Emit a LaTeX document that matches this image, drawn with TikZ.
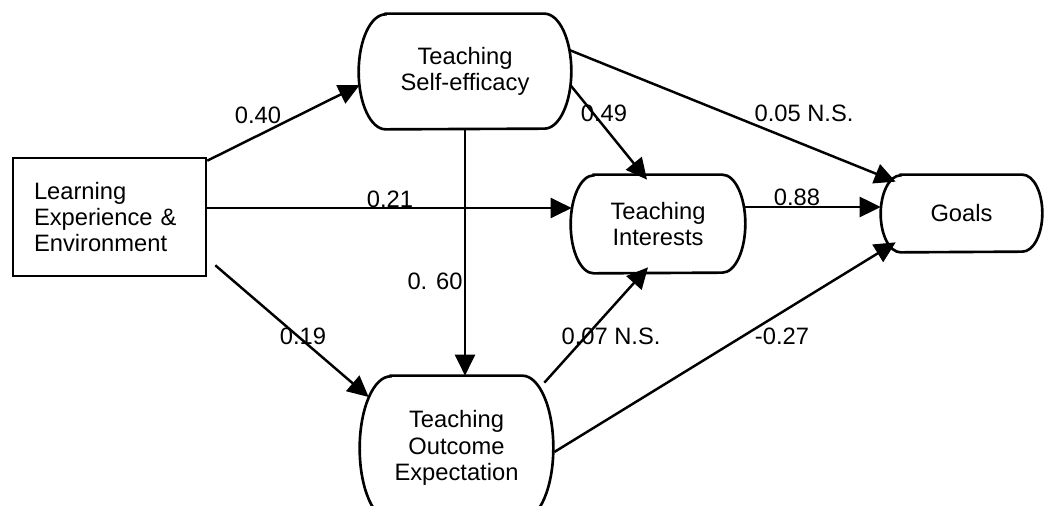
\documentclass[tikz,border=0pt]{standalone}
\usepackage{fontspec}
\setmainfont{Liberation Sans}
\usetikzlibrary{arrows.meta,calc}
\tikzstyle{arrow} = [line width=1.4pt,-{Triangle[length=12pt,width=11.5pt]}]
\tikzstyle{outline} = [line width=1.5pt]
\tikzstyle{capbox} = [align=center,inner sep=0pt]
\tikzstyle{coef} = [inner sep=0pt]
\newcommand{\capsule}[3]{%
	\draw[outline] ($(#1.north west)+(#2,0)$) -- ($(#1.north east)-(#2,0)$)
	arc[start angle=90,end angle=-90,x radius=#2*0.02cm,y radius=#3*0.02cm]
	-- ($(#1.south west)+(#2,0)$)
	arc[start angle=270,end angle=90,x radius=#2*0.02cm,y radius=#3*0.02cm] -- cycle;}

\begin{document}
\begin{tikzpicture}[x=0.02cm,y=-0.02cm,
	every node/.style={font=\fontsize{13.5}{15}\selectfont}]
	\useasboundingbox (0,0) rectangle (1044,506);
	\node[draw,outline,align=left,text width=3.02cm,inner xsep=0.42cm,
	minimum height=2.36cm] (learn) at (109.5,217)
	{Learning\\Experience \&\\Environment};
	\node[capbox,minimum width=4.24cm,minimum height=2.3cm] (se) at (465,71.5)
	{Teaching\\Self-efficacy};
	\node[capbox,minimum width=3.48cm,minimum height=1.96cm] (int) at (658,224)
	{Teaching\\Interests};
	\node[capbox,minimum width=3.22cm,minimum height=1.54cm] (goals) at (961.5,213.5)
	{Goals};
	\node[capbox,minimum width=3.86cm,minimum height=2.88cm] (out) at (456.5,448)
	{Teaching\\Outcome\\Expectation};
	\capsule{se}{27}{57.5}
	\capsule{int}{23}{49}
	\capsule{goals}{20}{38.5}
	\capsule{out}{31}{72}
	
	\node[coef] (c40) at (258,115) {0.40};
	\node[coef] (c21) at (390,199) {0.21};
	\node[coef] (c60) at (435,281) {0. 60};
	\node[coef] (c19) at (303,336) {0.19};
	\node[coef] (c07) at (611,336) {0.07 N.S.};
	\node[coef] (c27) at (782,336) {-0.27};
	\node[coef] (c49) at (604,113) {0.49};
	\node[coef] (c05) at (804,113) {0.05 N.S.};
	\node[coef] (c88) at (797,197) {0.88};
	
	\draw[arrow] ($(learn.north east)+(0,4)$) -- ($(se.west)+(1,13.5)$);
	\draw[arrow,line width=1.1pt] ($(learn.east)+(0,-9)$) -- ($(int.west)+(1,-16)$);
	\draw[arrow] ($(learn.south east)+(8,-12)$) -- ($(out.west)+(9,-51)$);
	\draw[arrow,line width=1pt] (se.south) -- (se.south |- out.north);
	\draw[arrow] ($(se.east)+(-1,13.5)$) -- ($(int.north)+(-11,5)$);
	\draw[arrow] ($(se.east)+(-2,-21.5)$) -- ($(goals.north west)+(15,7)$);
	\draw[arrow] ($(out.north east)+(-9,7)$) -- ($(int.south)+(-10,-6)$);
	\draw[arrow] ($(out.east)+(1,4)$) -- ($(goals.south west)+(15,-10)$);
	\draw[arrow] ($(int.east)+(0,-17)$) -- ($(goals.west)+(0,-6.5)$);
\end{tikzpicture}
\end{document}
